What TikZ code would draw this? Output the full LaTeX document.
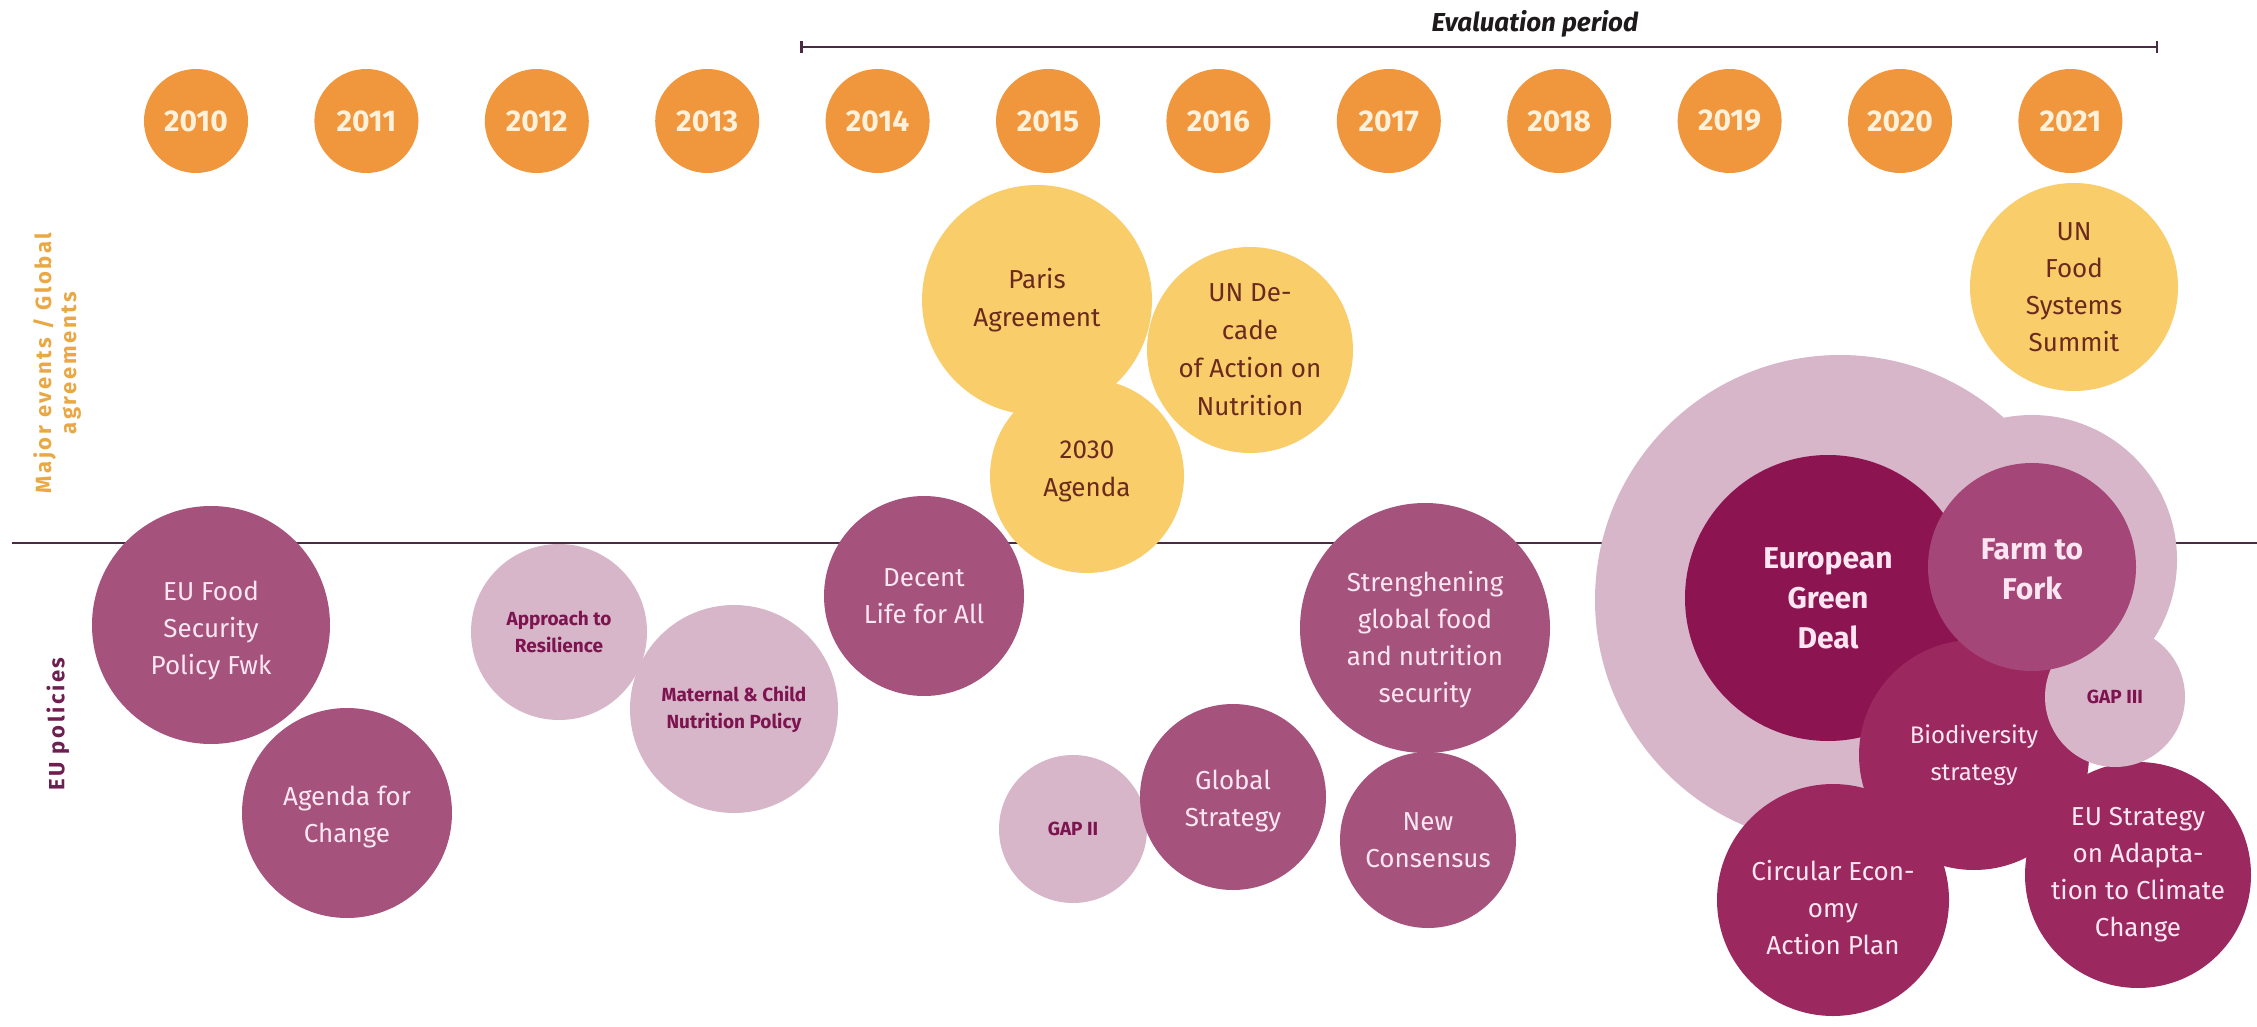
\documentclass[tikz,border=0pt]{standalone}
\usepackage{fontspec}
\setmainfont{Fira Sans}
\usetikzlibrary{arrows.meta}
\definecolor{yearorange}{HTML}{F0963C}
\definecolor{yeartext}{HTML}{FFF1DA}
\definecolor{yellowc}{HTML}{F9CD6A}
\definecolor{yellowtext}{HTML}{6B2A1E}
\definecolor{polc}{HTML}{A5527D}
\definecolor{palec}{HTML}{D8B6C9}
\definecolor{paletext}{HTML}{7D1450}
\definecolor{egdc}{HTML}{8C1450}
\definecolor{ftfc}{HTML}{A54678}
\definecolor{biodc}{HTML}{9B285F}
\definecolor{lighttext}{HTML}{FCE6F2}
\definecolor{sepline}{HTML}{4B2B42}
\definecolor{majortext}{HTML}{E9A844}
\definecolor{eutext}{HTML}{6E1F52}
\definecolor{evaltext}{HTML}{1E1A1C}
\tikzset{
  bubble/.style={circle, inner sep=0pt, outer sep=0pt, draw=none},
  wtxt/.style={align=center, text=lighttext, font=\fontsize{26}{37}\selectfont},
  ytxt/.style={align=center, text=yellowtext, font=\fontsize{26}{38}\selectfont},
  ptxt/.style={align=center, text=paletext, font=\bfseries\fontsize{19}{27}\selectfont},
  btxt/.style={align=center, text=lighttext, font=\bfseries\fontsize{30}{40}\selectfont},
  yearc/.style={bubble, fill=yearorange, minimum size=104pt, text=yeartext,
    font=\bfseries\fontsize{30}{30}\selectfont},
  sidelabel/.style={rotate=90, align=center,
    font=\bfseries\fontsize{22}{25}\selectfont\addfontfeatures{LetterSpace=12}},
  evline/.style={draw=sepline, line width=2.5pt},
}
% name, x, y, r, fill, text style, text
\newcommand{\bub}[7]{%
  \node[bubble, fill=#5, minimum size={2*#4pt}] (#1) at (#2,#3) {};
  \node[#6] (#1-t) at (#1.center) {#7};}
\begin{document}
\begin{tikzpicture}[x=1pt,y=-1pt]
\fill[white] (0,0) rectangle (2257,1027);
\useasboundingbox (0,0) rectangle (2257,1027);

% evaluation period
\coordinate (evL) at (800,47);
\coordinate (evR) at (2158,47);
\draw[evline, {Bar[width=12pt]}-{Bar[width=12pt]}] (evL) -- (evR);
\node[text=evaltext, font=\bfseries\itshape\fontsize{26}{26}\selectfont] (evlabel) at (1535,24) {Evaluation period};

% years
\foreach \yr [count=\i from 0] in {2010,2011,2012,2013,2014,2015,2016,2017,2018,2019,2020,2021}
  \node[yearc] (y\yr) at ({196+170.4*\i},121) {\yr};

% separator
\coordinate (sepL) at (12,543);
\coordinate (sepR) at (2257,543);
\draw[draw=sepline, line width=2.5pt] (sepL) -- (sepR);

% side labels
\node[sidelabel, text=majortext] (majorlbl) at (57,363) {Major events / Global\\agreements};
\node[sidelabel, text=eutext] (eulbl) at (58,724) {EU policies};

% major events
\bub{paris}{1037}{300}{115}{yellowc}{ytxt}{Paris\\Agreement}
\bub{undecade}{1250}{350}{103}{yellowc}{ytxt}{UN De-\\cade\\of Action on\\Nutrition}
\bub{agenda}{1087}{476}{97}{yellowc}{ytxt,yshift=5pt}{2030\\Agenda}
\bub{unfss}{2074}{287}{104}{yellowc}{ytxt,font=\fontsize{26}{37}\selectfont}{UN\\Food\\Systems\\Summit}

% EU policies
\bub{eufood}{211}{625}{119}{polc}{wtxt,yshift=-6pt}{EU Food\\Security\\Policy Fwk}
\bub{agendachange}{347}{813}{105}{polc}{wtxt,yshift=-4pt}{Agenda for\\Change}
\bub{resilience}{559}{632}{88}{palec}{ptxt}{Approach to\\Resilience}
\bub{maternal}{734}{709}{104}{palec}{ptxt}{Maternal \& Child\\Nutrition Policy}
\bub{decent}{924}{596}{100}{polc}{wtxt}{Decent\\Life for All}
\bub{gapii}{1073}{829}{74}{palec}{ptxt}{GAP II}
\bub{globalstrat}{1233}{797}{93}{polc}{wtxt,yshift=-4pt}{Global\\Strategy}
\bub{strength}{1425}{628}{125}{polc}{wtxt,yshift=-12pt}{Strenghening\\global food\\and nutrition\\security}
\bub{newcons}{1428}{840}{88}{polc}{wtxt}{New\\Consensus}

% right cluster
\bub{bigpale}{1840}{600}{245}{palec}{ptxt}{}
\bub{ftfpale}{2032}{560}{145}{palec}{ptxt}{}
\bub{egd}{1828}{598}{143}{egdc}{btxt}{European\\Green\\Deal}
\bub{biod}{1974}{755}{115}{biodc}{wtxt,font=\fontsize{24}{37}\selectfont}{Biodiversity\\strategy}
\bub{circular}{1833}{900}{116}{biodc}{wtxt,yshift=-8pt}{Circular Econ-\\omy\\Action Plan}
\bub{eustrat}{2138}{875}{113}{biodc}{wtxt}{EU Strategy\\on Adapta-\\tion to Climate\\Change}
\bub{gapiii}{2115}{697}{70}{palec}{ptxt}{GAP III}
\bub{ftf}{2032}{567}{104}{ftfc}{btxt,yshift=-2pt}{Farm to\\Fork}
\end{tikzpicture}
\end{document}
